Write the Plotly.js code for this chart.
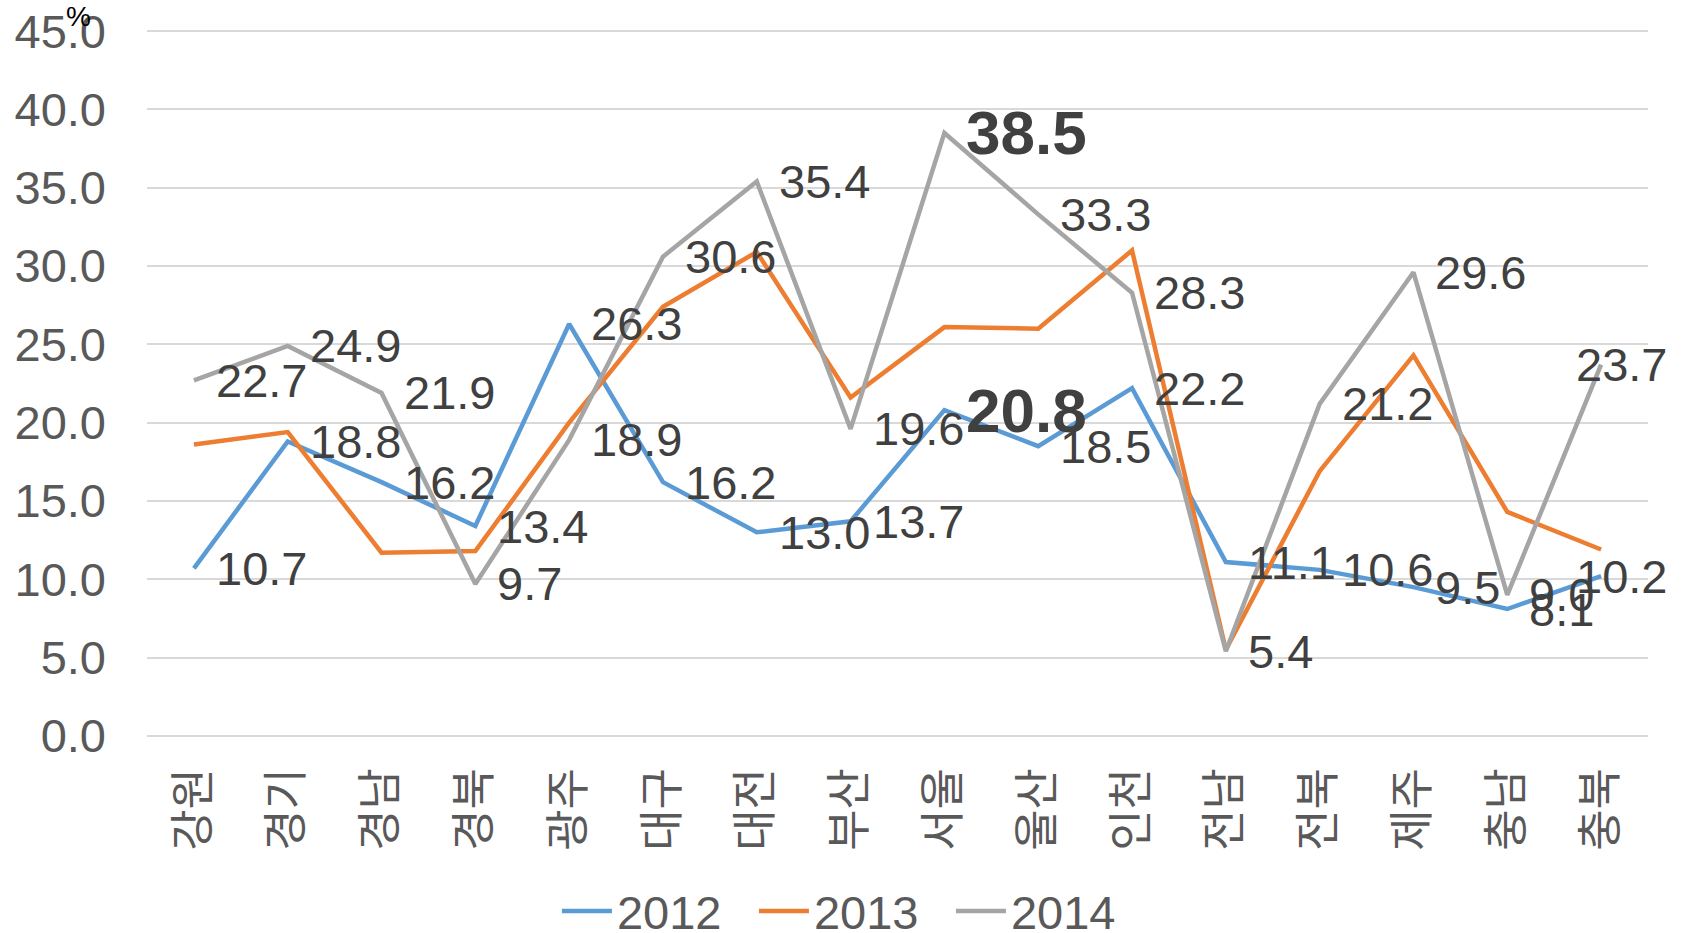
<!DOCTYPE html>
<html>
<head>
<meta charset="utf-8">
<script src="https://cdn.plot.ly/plotly-3.0.1.min.js"></script>
<style>html,body{margin:0;padding:0;background:#fff;}#chart{width:1688px;height:933px;}</style>
</head>
<body>
<div id="chart"></div>
<script>
const categories = ['강원','경기','경남','경북','광주','대구','대전','부산','서울','울산','인천','전남','전북','제주','충남','충북'];
const seriesNames = ['2012','2013','2014'];
const y2012 = [10.7, 18.8, 16.2, 13.4, 26.3, 16.2, 13.0, 13.7, 20.8, 18.5, 22.2, 11.1, 10.6, 9.5, 8.1, 10.2];
const y2013 = [18.6, 19.4, 11.7, 11.8, 20.0, 27.4, 30.9, 21.6, 26.1, 26.0, 31.0, 5.5, 16.9, 24.3, 14.3, 11.9];
const y2014 = [22.7, 24.9, 21.9, 9.7, 18.9, 30.6, 35.4, 19.6, 38.5, 33.3, 28.3, 5.4, 21.2, 29.6, 9.0, 23.7];
const yTicks = [0, 5, 10, 15, 20, 25, 30, 35, 40, 45];
const labelledSeries = [y2012, y2014];
const boldCategories = ['서울'];
const unitLabel = '%';

const colors = ['#5B9BD5', '#ED7D31', '#A5A5A5'];
const allSeries = [y2012, y2013, y2014];

const traces = allSeries.map((ys, k) => ({
  type: 'scatter',
  mode: 'lines',
  name: seriesNames[k],
  x: categories,
  y: ys,
  line: {color: colors[k], width: 4.5},
  hoverinfo: 'skip'
}));

const annotations = [];
labelledSeries.forEach(ys => {
  ys.forEach((v, i) => {
    const bold = boldCategories.includes(categories[i]);
    const last = i === categories.length - 1;
    annotations.push({
      x: categories[i], y: v, xref: 'x', yref: 'y',
      text: bold ? '<b>' + v.toFixed(1) + '</b>' : v.toFixed(1),
      showarrow: false, xanchor: last ? 'right' : 'left', yanchor: 'middle',
      xshift: last ? 68 : 20,
      font: {family: 'Liberation Sans, Arial, sans-serif', size: bold ? 62 : 47, color: '#404040'}
    });
  });
});
annotations.push({
  xref: 'paper', yref: 'paper', x: -0.055, y: 1.016, xanchor: 'left', yanchor: 'middle',
  text: unitLabel, showarrow: false,
  font: {family: 'Liberation Sans, Arial, sans-serif', size: 28, color: '#000000'}
});

const layout = {
  width: 1688, height: 933,
  margin: {l: 147, r: 40, t: 28, b: 194},
  paper_bgcolor: '#ffffff', plot_bgcolor: '#ffffff',
  showlegend: true,
  xaxis: {
    type: 'category', range: [-0.5, categories.length - 0.5],
    showgrid: false, zeroline: false, showline: false, ticks: '',
    tickangle: -90, ticklabelstandoff: 19,
    tickfont: {family: 'Noto Sans CJK KR, sans-serif', size: 45, color: '#595959'}
  },
  yaxis: {
    range: [-0.2, 45.2], tickvals: yTicks, ticktext: yTicks.map(v => v.toFixed(1)),
    showgrid: true, gridcolor: '#D9D9D9', gridwidth: 2,
    zeroline: false, showline: false, ticks: '', ticklabelstandoff: 40,
    tickfont: {family: 'Liberation Sans, Arial, sans-serif', size: 47, color: '#595959'}
  },
  legend: {
    orientation: 'h', xref: 'container', yref: 'container',
    x: 0.505, xanchor: 'center', y: 0.023, yanchor: 'middle',
    font: {family: 'Liberation Sans, Arial, sans-serif', size: 47, color: '#595959'},
    itemwidth: 50, entrywidth: 132, bgcolor: 'rgba(0,0,0,0)'
  },
  annotations: annotations
};

Plotly.newPlot('chart', traces, layout, {displayModeBar: false, staticPlot: true});
</script>
</body>
</html>
